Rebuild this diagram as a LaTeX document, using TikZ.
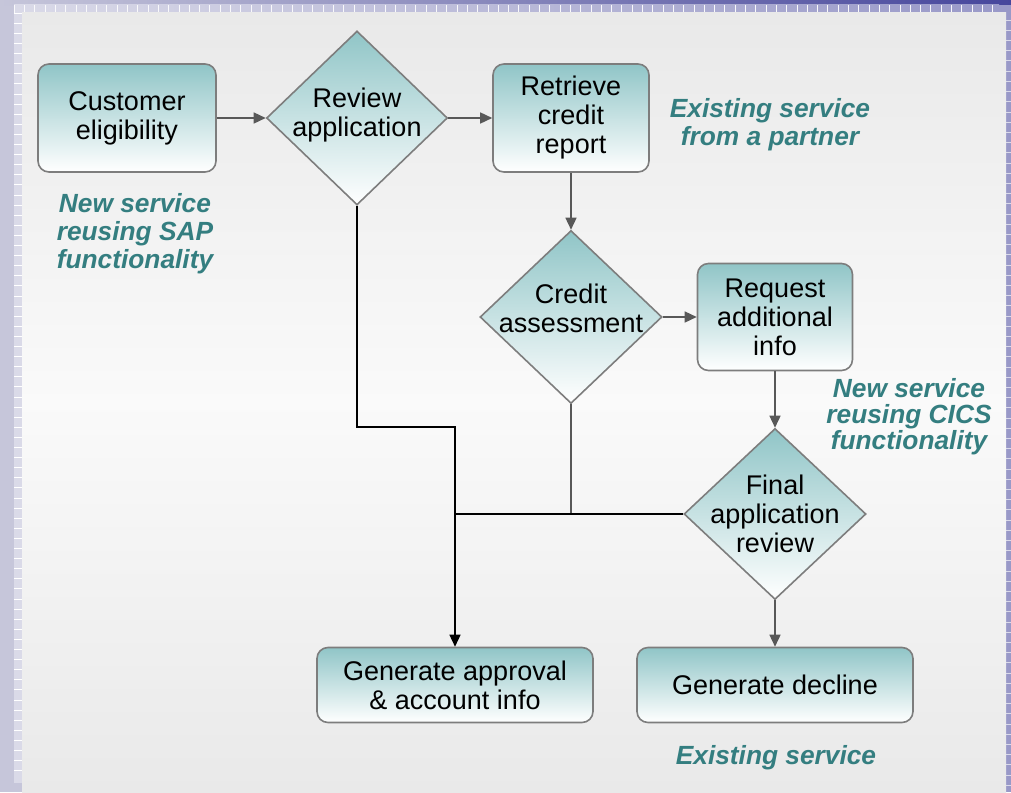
\documentclass[tikz,border=0pt]{standalone}
\usepackage{fontspec}
\setmainfont{Liberation Sans}
\usetikzlibrary{shapes.geometric,arrows.meta}
\definecolor{tealtop}{RGB}{144,197,199}
\definecolor{boxedge}{RGB}{125,125,125}
\definecolor{linegray}{RGB}{88,88,88}
\definecolor{labelteal}{RGB}{52,126,128}
\definecolor{lav}{RGB}{198,198,218}
\definecolor{lavdark}{RGB}{70,70,156}
\definecolor{lavchk}{RGB}{218,218,232}
\definecolor{panelgray}{RGB}{233,233,233}
\tikzset{
  proc/.style={draw=boxedge, line width=1.6pt, rounded corners=11pt, top color=tealtop, bottom color=white, inner sep=0pt},
  decision/.style={diamond, draw=boxedge, line width=1.6pt, top color=tealtop, bottom color=white, inner sep=0pt},
  txt/.style={font=\fontsize{27}{29}\selectfont, align=center, text=black},
  note/.style={font=\fontsize{26.3}{28}\selectfont\bfseries\itshape, text=labelteal, align=center},
  tip/.style={-{Triangle[length=12pt,width=11pt]}},
  flow/.style={draw=linegray, line width=1.5pt},
  blk/.style={draw=black, line width=1.5pt},
}
\begin{document}
\begin{tikzpicture}[x=1pt,y=-1pt]
% ---------- background ----------
\useasboundingbox (0,0) rectangle (1011,792);
\fill[lav] (0,0) rectangle (1011,792);
\shade[left color=lav, right color=lavdark] (0,0) rectangle (1011,6);
\shade[left color=lavchk, right color=lavdark!55!white] (14,5) rectangle (999,13);
\foreach \i in {0,...,95} \draw[white!85!lavchk, line width=0.6pt] (14+\i*10.3,5) -- ++(0,8);
\fill[lavchk] (14,13) rectangle (22,783);
\foreach \i in {0,...,75} \draw[white, line width=0.6pt] (14,13+\i*10.1) -- ++(8,0);
\fill[lavdark!55!white] (999,5) rectangle (1011,792);
\foreach \i in {0,...,78} \draw[white!80!lavdark, line width=0.6pt] (1006,20+\i*10.2) -- ++(5,0);
\shade[top color=panelgray, bottom color=panelgray, middle color=white!98!black] (22,13) rectangle (1006,792);
% ---------- nodes ----------
\node[proc, txt, minimum width=178pt, minimum height=108pt] (cust) at (127,118) {Customer\\eligibility};
\node[decision, minimum width=181pt, minimum height=174pt] (rev) at (357,118) {};
\node[txt] (revt) at (357,115) {Review\\application};
\node[proc, txt, minimum width=156pt, minimum height=108pt] (ret) at (571,118) {Retrieve\\credit\\report};
\node[decision, minimum width=182pt, minimum height=173pt] (cred) at (571,317) {};
\node[txt] (credt) at (571,308) {Credit\\assessment};
\node[proc, txt, minimum width=155pt, minimum height=107pt] (req) at (775,317) {Request\\additional\\info};
\node[decision, minimum width=182pt, minimum height=171pt] (fin) at (775,514) {};
\node[txt] (fint) at (775,514) {Final\\application\\review};
\node[proc, txt, minimum width=276pt, minimum height=75pt] (appr) at (455,685) {Generate approval\\\& account info};
\node[proc, txt, minimum width=276pt, minimum height=75pt] (dec) at (775,685) {Generate decline};
% ---------- notes ----------
\node[note] (n1) at (135,234) {New service\\reusing SAP\\functionality};
\node[note] (n2) at (770,125) {Existing service\\from a partner};
\node[note, font=\fontsize{26.3}{26}\selectfont\bfseries\itshape] (n3) at (909,417) {New service\\reusing CICS\\functionality};
\node[note] (n4) at (776,758) {Existing service};
% ---------- connectors ----------
\coordinate (bend) at (400,427);
\coordinate (join) at (455,514);
\draw[flow, tip] (cust.east) -- (rev.west);
\draw[flow, tip] (rev.east) -- (ret.west);
\draw[flow, tip] (ret.south) -- (cred.north);
\draw[flow, tip] (cred.east) -- (req.west);
\draw[flow, tip] (req.south) -- (fin.north);
\draw[flow, tip] (fin.south) -- (dec.north);
\draw[flow] (cred.south) |- (join);
\draw[blk] (fin.west) -- (join);
\draw[blk, tip] (rev.south) |- (bend) -| (appr.north);
\end{tikzpicture}
\end{document}
